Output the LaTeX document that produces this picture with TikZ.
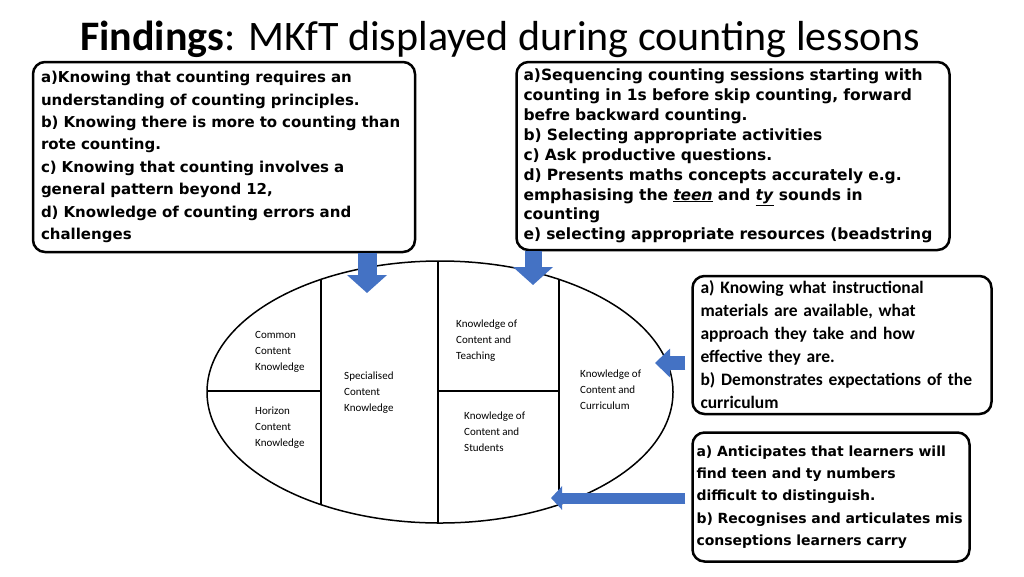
\documentclass[tikz,border=0pt]{standalone}
\usepackage{fontspec}
\setmainfont{Carlito}
\newfontfamily\verdfont{DejaVu Sans}
\usetikzlibrary{arrows.meta}
\definecolor{arrblue}{HTML}{4472C4}

\begin{document}
\begin{tikzpicture}[x=1pt,y=-1pt,
    kbox/.style={draw,line width=2.5pt,rounded corners=12pt,align=left,inner sep=0pt},
    cell/.style={anchor=west,align=left,inner sep=0pt,font=\fontsize{11}{16}\selectfont},
    blockarr/.style={arrblue,line width=19pt,-{Triangle[width=39pt,length=18pt]}}]
            \useasboundingbox (0,0) rectangle (1024,576);

            \node[anchor=base west,inner sep=0pt,font=\fontsize{42}{42}\selectfont] (title) at (80,50)
            {\textbf{Findings}: MKfT displayed during counting lessons}; % title

            \draw[line width=1.5pt] (440,392) ellipse [x radius=233, y radius=131]; % domains
            \begin{scope}
            \clip (440,392) ellipse [x radius=233, y radius=131];
            \draw[line width=1.5pt] (321,250) -- (321,540);
            \draw[line width=1.5pt] (438,250) -- (438,540);
            \draw[line width=1.5pt] (559,250) -- (559,540);
            \draw[line width=1.5pt] (200,391) -- (321,391);
            \draw[line width=1.5pt] (438,391) -- (559,391);
            \end{scope}

            \node[cell] (cck) at (255,352) {Common\\Content\\Knowledge};
            \node[cell] (hck) at (255,428) {Horizon\\Content\\Knowledge};
            \node[cell] (sck) at (344,393) {Specialised\\Content\\Knowledge};
            \node[cell] (kct) at (456,341) {Knowledge of\\Content and\\Teaching};
            \node[cell] (kcs) at (464,432) {Knowledge of\\Content and\\Students};
            \node[cell] (kcc) at (580,390) {Knowledge of\\Content and\\Curriculum};

            \node[kbox,minimum width=382pt,minimum height=190pt,text width=366pt,
            font=\verdfont\bfseries\fontsize{15}{22.4}\selectfont] (skbox) at (224,157)
            {a)Knowing that counting requires an\\
            understanding of counting principles.\\
            b) Knowing there is more to counting than\\
            rote counting.\\
            c) Knowing that counting involves a\\
            general pattern beyond 12,\\
            d) Knowledge of counting errors and\\
            challenges}; % SCK box

            \node[kbox,minimum width=433pt,minimum height=188pt,text width=419pt,
            font=\verdfont\bfseries\fontsize{15.5}{19.9}\selectfont] (ptbox) at (733,156)
            {a)Sequencing counting sessions starting with\\
            counting in 1s before skip counting, forward\\
            befre backward counting.\\
            b) Selecting appropriate activities\\
            c) Ask productive questions.\\
            d) Presents maths concepts accurately e.g.\\
            emphasising the \underline{\textit{teen}} and \underline{\textit{ty}} sounds in\\
            counting\\
            e) selecting appropriate resources (beadstring}; % KCT box

            \node[kbox,minimum width=299pt,minimum height=138pt,text width=283pt,
            font=\bfseries\fontsize{17.5}{23}\selectfont] (ccbox) at (842,345)
            {a) Knowing what instructional\\
            materials are available, what\\
            approach they take and how\\
            effective they are.\\
            b) Demonstrates expectations of the\\
            curriculum}; % KCC box

            \node[kbox,minimum width=277pt,minimum height=129pt,text width=269pt,
            font=\verdfont\bfseries\fontsize{14}{22.3}\selectfont] (csbox) at (831,497)
            {a) Anticipates that learners will\\
            find teen and ty numbers\\
            difficult to distinguish.\\
            b) Recognises and articulates mis\\
            conseptions learners carry}; % KCS box

            \coordinate (sckin) at (367,293);
            \coordinate (kctin) at (533,285);
            \coordinate (kccin) at (655,363);
            \coordinate (kcsin) at (551,498);

            \draw[blockarr] (sckin |- skbox.south) -- (sckin);
            \draw[blockarr,line width=17pt] (kctin |- ptbox.south) -- (kctin);
            \draw[blockarr,line width=14pt,-{Triangle[width=28pt,length=15pt]},shorten <=6pt]
            (kccin -| ccbox.west) -- (kccin);
            \draw[blockarr,line width=11pt,-{Triangle[width=23pt,length=11pt]},shorten <=6pt]
            (kcsin -| csbox.west) -- (kcsin);
        \end{tikzpicture}
\end{document}
